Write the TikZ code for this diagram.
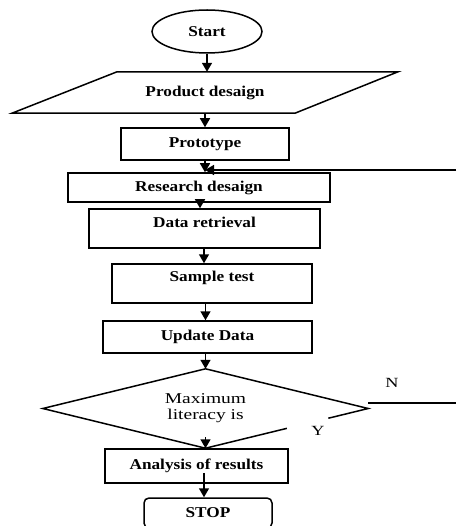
\documentclass[tikz,border=0pt]{standalone}
\usepackage{fontspec}
\setmainfont{Liberation Serif}[FakeStretch=1.15]
\newfontfamily\decfont{Liberation Serif}[FakeStretch=1.3]
\usetikzlibrary{shapes.geometric,arrows.meta,calc}
\tikzset{
  box/.style={draw, line width=1.5pt, rectangle, inner sep=0pt, font=\fontsize{15}{17}\selectfont\bfseries},
  txt/.style={inner sep=0pt, font=\fontsize{15}{17}\selectfont\bfseries},
  lbl/.style={inner sep=0pt, font=\fontsize{14}{16}\decfont},
  arr/.style={line width=1.5pt, -{Triangle[width=10pt,length=9pt]}},
  ln/.style={line width=1.5pt},
}
\begin{document}
\begin{tikzpicture}[x=1pt,y=-1pt]
\useasboundingbox (0,0) rectangle (456,526);
% nodes
\node[draw, ellipse, line width=1.5pt, minimum width=110pt, minimum height=43pt, inner sep=0pt, font=\fontsize{15}{17}\selectfont\bfseries] (start) at (207,31.5) {Start};
\node[txt, minimum height=41pt] (prod) at (205,92.5) {Product desaign};
\draw[ln] ([xshift=-193pt]prod.south) -- ([xshift=90pt]prod.south) -- ([xshift=193pt]prod.north) -- ([xshift=-88pt]prod.north) -- cycle;
\node[box, minimum width=168pt, minimum height=32pt] (proto) at (205,144) {Prototype};
\node[box, minimum width=262pt, minimum height=29pt] (research) at (199,187.5) {Research desaign};
\node[box, minimum width=231pt, inner ysep=4pt, text height=14pt, text depth=17pt] (data) at (204.5,228.5) {Data retrieval};
\node[box, minimum width=200pt, inner ysep=4pt, text height=13pt, text depth=18pt] (sample) at (212,283.5) {Sample test};
\node[box, minimum width=209pt, minimum height=32pt] (update) at (207.5,337) {Update Data};
\node[diamond, aspect=4.1, draw=none, minimum width=325pt, minimum height=79pt, inner sep=0pt, align=center, font=\fontsize{15}{16}\decfont] (dec) at (205.5,408.5) {Maximum\\literacy is};
\draw[ln] ($(dec.south)!0.5!(dec.east)$) -- (dec.south) -- (dec.west) -- (dec.north) -- (dec.east) -- ($(dec.south)!0.755!(dec.east)$);
\node[box, minimum width=183pt, minimum height=34pt] (analysis) at (196.5,466) {Analysis of results};
\node[box, rounded corners=5pt, minimum width=128pt, minimum height=30pt] (stop) at (208,513) {STOP};
\node[lbl] (nlab) at (392,383) {N};
\node[lbl] (ylab) at (318,431) {Y};
% connectors
\draw[arr] (start.south) -- (start.south |- prod.north);
\draw[arr] (prod.south) -- (prod.south |- proto.north);
\draw[arr] (proto.south) -- (proto.south |- research.north);
\coordinate (fbR) at (456,170);
\draw[arr] (fbR) -- (fbR -| proto.south);
\draw[arr] (research.south -| 200,0) -- (data.north -| 200,0);
\draw[arr] (data.south -| 204,0) -- (sample.north -| 204,0);
\draw[arr] (sample.south -| 205.5,0) -- (update.north -| 205.5,0);
\draw[arr] (update.south -| dec.north) -- (dec.north);
\draw[arr] ([yshift=11pt]dec.south) -- (dec.south |- analysis.north);
\draw[arr] ([yshift=11pt]analysis.south -| 204,0) -- (stop.north -| 204,0);
\coordinate (nR) at (456,403);
\draw[ln] (dec.east |- nR) -- (nR);
\end{tikzpicture}
\end{document}
